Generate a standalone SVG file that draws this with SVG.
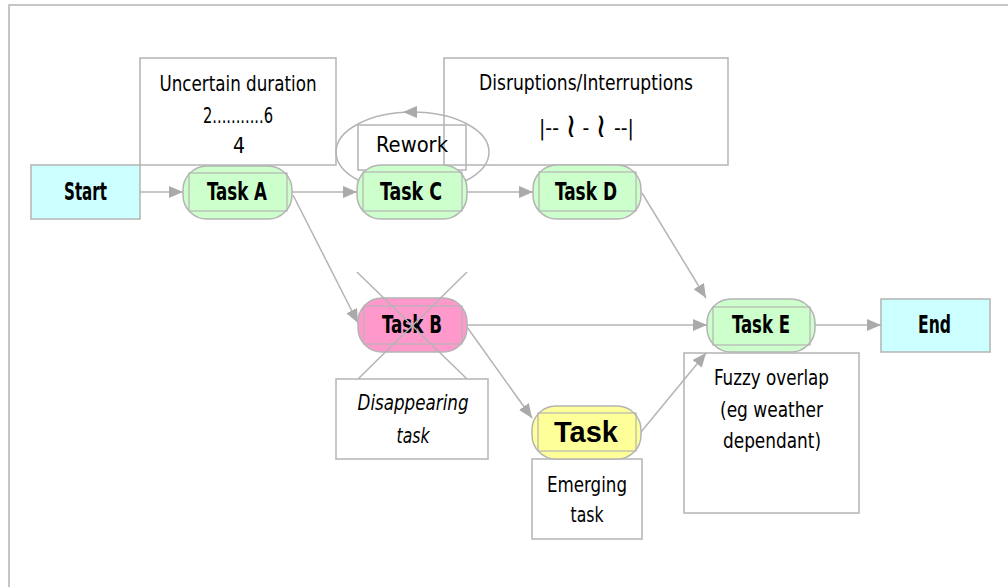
<svg xmlns="http://www.w3.org/2000/svg" width="1008" height="587" viewBox="0 0 1008 587">
  <style>
    .frame { fill: #ffffff; stroke: #b4b4b4; stroke-width: 1.5; }
    .note { fill: #ffffff; stroke: #b4b4b4; stroke-width: 1.5; }
    .term { fill: #ccffff; stroke: #b4b4b4; stroke-width: 1.5; }
    .task { stroke: #b4b4b4; stroke-width: 1.5; }
    .green { fill: #ccffcc; }
    .pink { fill: #ff99cc; }
    .yellow { fill: #ffff99; }
    .inner { fill: none; stroke: #b4b4b4; stroke-width: 1.2; }
    .edge { fill: none; stroke: #b4b4b4; stroke-width: 1.5; }
    .cross { fill: none; stroke: #b4b4b4; stroke-width: 1.5; }
    text { font-family: "DejaVu Sans Condensed", "DejaVu Sans", sans-serif; fill: #000000; text-anchor: middle; }
    .lbl { font-size: 24px; font-weight: bold; }
    .txt { font-size: 21px; }
    .big { font-family: "Liberation Sans", Arial, sans-serif; font-size: 29px; font-weight: bold; }
  </style>
  <defs>
    <marker id="arrow" viewBox="0 0 14 12" refX="14" refY="6" markerWidth="14" markerHeight="12" markerUnits="userSpaceOnUse" orient="auto">
      <path d="M0,0 L14,6 L0,12 Z" fill="#aaaaaa"/>
    </marker>
  </defs>

  <!-- outer frame -->
  <rect class="frame" x="9" y="5" width="1040" height="620"/>

  <!-- note boxes (drawn beneath the tasks) -->
  <g id="note-duration">
    <rect class="note" x="140" y="58" width="196" height="107"/>
    <text class="txt" x="238" y="91" textLength="157" lengthAdjust="spacingAndGlyphs">Uncertain duration</text>
    <text class="txt" x="238" y="123" textLength="70" lengthAdjust="spacingAndGlyphs">2...........6</text>
    <text class="txt" x="239" y="153">4</text>
  </g>
  <g id="note-disruptions">
    <rect class="note" x="444" y="58" width="284" height="107"/>
    <text class="txt" x="586" y="90" textLength="214" lengthAdjust="spacingAndGlyphs">Disruptions/Interruptions</text>
    <text class="txt" font-size="25" y="135"><tspan x="549">|--</tspan><tspan x="571" font-size="34" font-weight="200" dy="2">≀</tspan><tspan x="586" dy="-2">-</tspan><tspan x="601" font-size="34" font-weight="200" dy="2">≀</tspan><tspan x="624" dy="-2">--|</tspan></text>
  </g>
  <g id="note-rework">
    <ellipse class="edge" cx="412.5" cy="152" rx="76.5" ry="40"/>
    <path d="M403,112 L417,106 L417,118 Z" fill="#aaaaaa"/>
    <rect class="note" x="358" y="125" width="108" height="45" style="fill:none"/>
    <text class="txt" x="412" y="152" textLength="72" lengthAdjust="spacingAndGlyphs">Rework</text>
  </g>
  <g id="note-disappearing">
    <rect class="note" x="336" y="379" width="152" height="80"/>
    <text class="txt" x="413" y="410" font-style="italic" textLength="111" lengthAdjust="spacingAndGlyphs">Disappearing</text>
    <text class="txt" x="413" y="443" font-style="italic" textLength="33" lengthAdjust="spacingAndGlyphs">task</text>
  </g>
  <g id="note-emerging">
    <rect class="note" x="532" y="459" width="110" height="80"/>
    <text class="txt" x="587" y="492" textLength="80" lengthAdjust="spacingAndGlyphs">Emerging</text>
    <text class="txt" x="587" y="522" textLength="33" lengthAdjust="spacingAndGlyphs">task</text>
  </g>
  <g id="note-fuzzy">
    <rect class="note" x="684" y="353" width="175" height="160"/>
    <text class="txt" x="771.5" y="385" textLength="115" lengthAdjust="spacingAndGlyphs">Fuzzy overlap</text>
    <text class="txt" x="771.5" y="417" textLength="103" lengthAdjust="spacingAndGlyphs">(eg weather</text>
    <text class="txt" x="772" y="448" textLength="98" lengthAdjust="spacingAndGlyphs">dependant)</text>
  </g>

  <!-- connectors -->
  <g id="connectors">
    <line class="edge" x1="140" y1="192" x2="183" y2="192" marker-end="url(#arrow)"/>
    <line class="edge" x1="292" y1="192" x2="357" y2="192" marker-end="url(#arrow)"/>
    <line class="edge" x1="467" y1="192" x2="533" y2="192" marker-end="url(#arrow)"/>
    <line class="edge" x1="293" y1="195" x2="358" y2="323" marker-end="url(#arrow)"/>
    <line class="edge" x1="642" y1="193" x2="706" y2="298" marker-end="url(#arrow)"/>
    <line class="edge" x1="467" y1="325" x2="707" y2="325" marker-end="url(#arrow)"/>
    <line class="edge" x1="467" y1="327" x2="532" y2="418" marker-end="url(#arrow)"/>
    <line class="edge" x1="641" y1="432" x2="706" y2="353" marker-end="url(#arrow)"/>
    <line class="edge" x1="815" y1="325" x2="881" y2="325" marker-end="url(#arrow)"/>
  </g>

  <!-- terminals -->
  <g id="start">
    <rect class="term" x="31" y="165" width="109" height="54"/>
    <text class="lbl" x="85.5" y="200" textLength="43" lengthAdjust="spacingAndGlyphs">Start</text>
  </g>
  <g id="end">
    <rect class="term" x="881" y="299" width="109" height="53"/>
    <text class="lbl" x="934.5" y="333" textLength="33" lengthAdjust="spacingAndGlyphs">End</text>
  </g>

  <!-- tasks -->
  <g id="task-a">
    <rect class="task green" x="183" y="166" width="109" height="53" rx="24"/>
    <rect class="inner" x="189" y="173" width="98" height="38"/>
    <text class="lbl" x="237" y="200" textLength="60" lengthAdjust="spacingAndGlyphs">Task A</text>
  </g>
  <g id="task-c">
    <rect class="task green" x="357" y="165" width="110" height="54" rx="24"/>
    <rect class="inner" x="363" y="172" width="99" height="39"/>
    <text class="lbl" x="411" y="200" textLength="62" lengthAdjust="spacingAndGlyphs">Task C</text>
  </g>
  <g id="task-d">
    <rect class="task green" x="533" y="165" width="108" height="54" rx="24"/>
    <rect class="inner" x="539" y="172" width="97" height="39"/>
    <text class="lbl" x="586" y="200" textLength="62" lengthAdjust="spacingAndGlyphs">Task D</text>
  </g>
  <g id="task-b">
    <rect class="task pink" x="358" y="298" width="109" height="54" rx="24"/>
    <rect class="inner" x="364" y="306" width="98" height="38"/>
    <text class="lbl" x="412" y="333" textLength="60" lengthAdjust="spacingAndGlyphs">Task B</text>
    <line class="cross" x1="357" y1="272" x2="467" y2="379"/>
    <line class="cross" x1="467" y1="272" x2="358" y2="379"/>
  </g>
  <g id="task-e">
    <rect class="task green" x="707" y="299" width="108" height="53" rx="24"/>
    <rect class="inner" x="713" y="307" width="97" height="38"/>
    <text class="lbl" x="761" y="333" textLength="58" lengthAdjust="spacingAndGlyphs">Task E</text>
  </g>
  <g id="task-new">
    <rect class="task yellow" x="532" y="406" width="109" height="53" rx="24"/>
    <rect class="inner" x="538" y="413" width="98" height="38"/>
    <text class="big" x="586" y="442">Task</text>
  </g>
</svg>
